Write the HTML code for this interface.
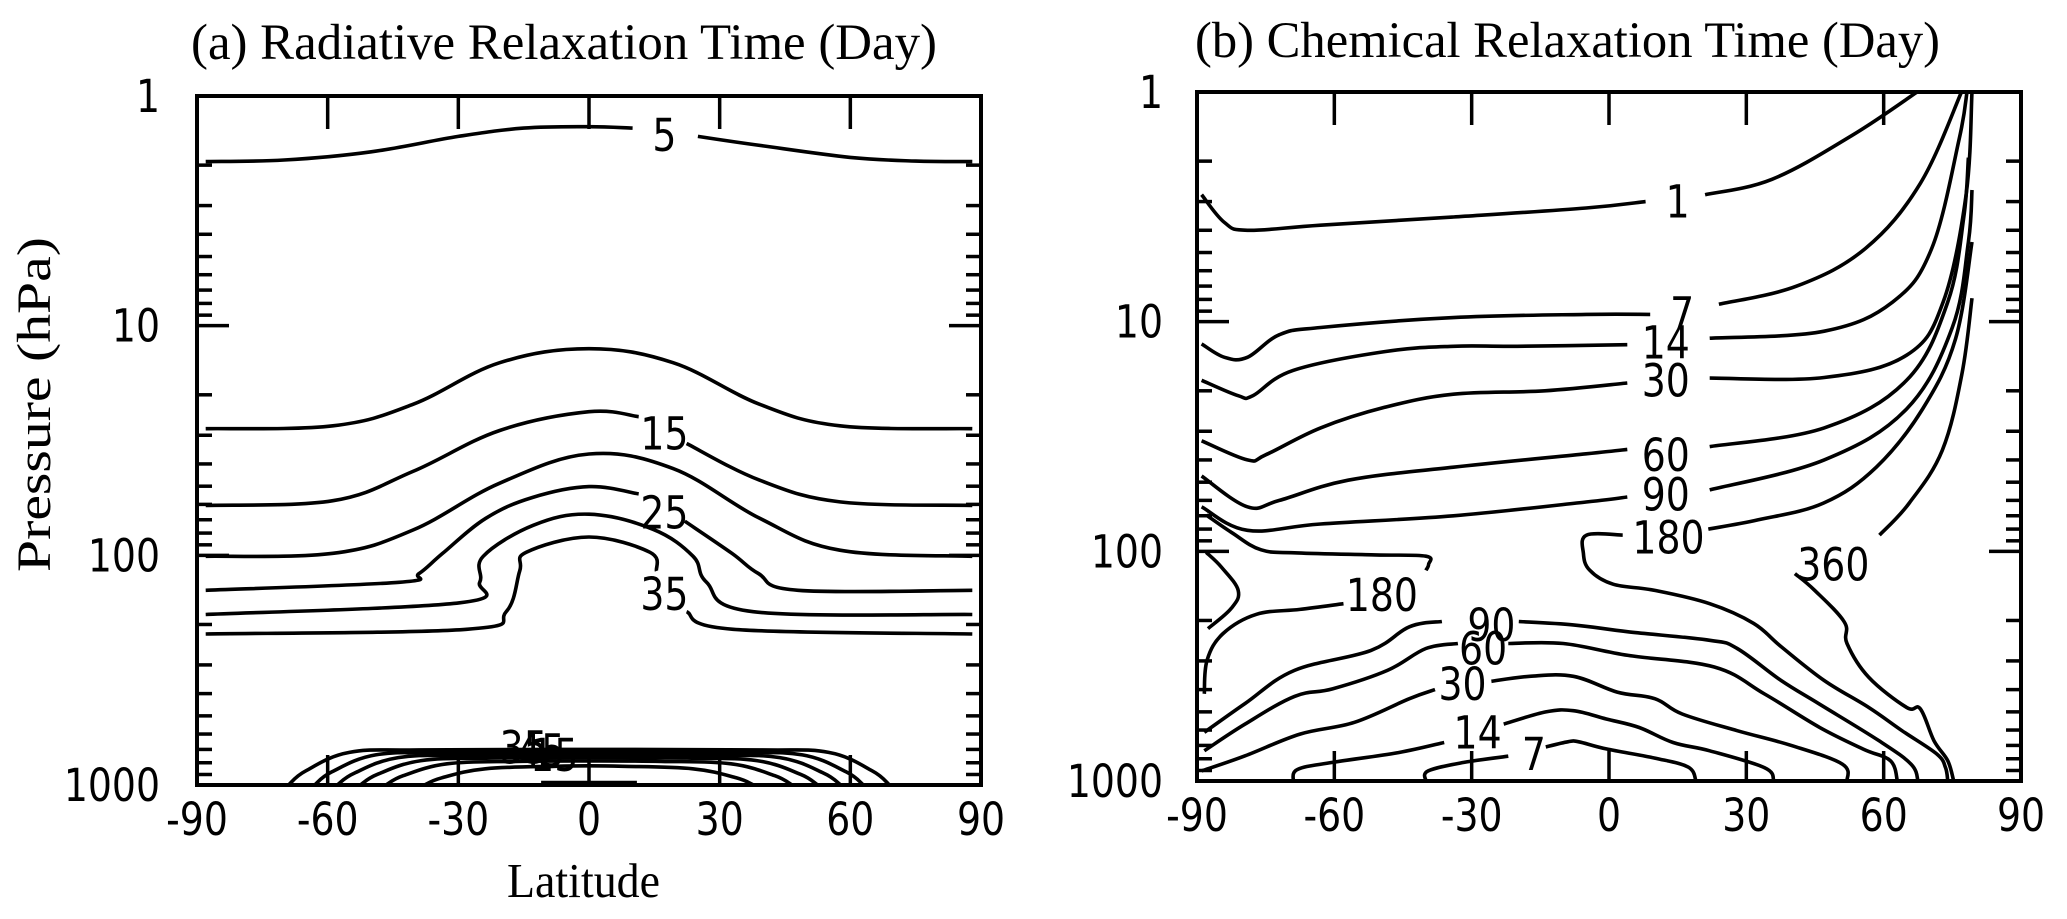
<!DOCTYPE html>
<html><head><meta charset="utf-8"><style>
html,body{margin:0;padding:0;background:#fff;}
svg{display:block;}
.tick{font-family:"DejaVu Sans","Liberation Sans",sans-serif;font-size:45px;fill:#000;}
.ser{font-family:"Liberation Serif",serif;fill:#000;}
</style></head><body>
<svg id="fig" xmlns="http://www.w3.org/2000/svg" width="2067" height="919" viewBox="0 0 2067 919">
<text class="ser" x="191" y="59" font-size="51" textLength="746" lengthAdjust="spacingAndGlyphs">(a) Radiative Relaxation Time (Day)</text>
<text class="ser" x="1195" y="57" font-size="51" textLength="745" lengthAdjust="spacingAndGlyphs">(b) Chemical Relaxation Time (Day)</text>
<text class="ser" x="507" y="897" font-size="49" textLength="153" lengthAdjust="spacingAndGlyphs">Latitude</text>
<text class="ser" transform="translate(50,572) rotate(-90)" font-size="48" textLength="335" lengthAdjust="spacingAndGlyphs">Pressure  (hPa)</text>
<g id="pa"></g>
<g id="pb"></g>
</svg>
<script>
const xTicks=[-90,-60,-30,0,30,60,90];
const yTickLabels=[1,10,100,1000];
const minorP=[2,3,4,5,6,7,8,9,20,30,40,50,60,70,80,90,200,300,400,500,600,700,800,900];
// Panel a contours: segments of [lat,hPa]
const aC5=[[[-88,1.93],[-70,1.9],[-50,1.75],[-30,1.5],[-15,1.38],[0,1.36],[10,1.38]],[[25,1.5],[40,1.65],[60,1.85],[75,1.92],[88,1.93]]];
const aC10=[[[-88,28.1],[-58.8,27.3],[-40.4,22],[-20.5,14.5],[0,12.6],[19.3,14.5],[39.2,22],[57.6,27.3],[88,28.1]]];
const aC15=[[[-88,60.6],[-58.8,57.8],[-40.4,43.1],[-20.5,28.6],[0,23.7],[11.4,24.9]],[[22.4,32.6],[39.2,47.1],[57.6,58.5],[88,60.6]]];
const aC20=[[[-88,101],[-58.8,98],[-40.4,77.6],[-20.5,48.5],[0,36.2],[19.3,41.9],[39.2,69],[57.6,95],[88,101]]];
const aC25=[[[-88,142],[-43.6,131],[-39,120],[-33.6,98],[-23.7,69],[-13,56],[0,50.2],[11.4,54]],[[22,71],[32.8,98],[38.9,120],[48,142],[88,142]]];
const aC30=[[[-88,181],[-29.7,161],[-25.1,131],[-24.3,101],[-12.8,74],[0,66.2],[14.7,77],[23.9,101],[27,131],[37.7,176],[88,181]]];
const aC35=[[[-88,220],[-28.1,210],[-19,176],[-15.9,117],[-14.4,97],[0,83.2],[14,97],[15.5,117]],[[22.4,176],[33.1,210],[88,220]]];
const aLabels=[["5",17.3,1.48],["15",17.3,29.5],["25",17.3,65],["35",17.3,147]];
const aArcEnds=[69,63,57.8,52.5,46.6,37.8];
const aArcTops=[700,718,738,760,785,825];
// Panel b contours
const b1=[[[-89,2.8],[-84,3.7],[-79,4],[-63,3.8],[-34,3.5],[-5,3.2],[8,3.0]],[[21,2.8],[35.6,2.4],[53,1.55],[67.3,1.0]]];
const b7=[[[-89,12.5],[-84,14.3],[-79,14.3],[-72,11.4],[-63,10.6],[-34,9.6],[-5,9.3],[9,9.3]],[[24,8.4],[41,7],[56,4.8],[68,2.5],[77,1]]];
const b14=[[[-89,18],[-81,21],[-77.8,21],[-69,16.3],[-49,13.5],[-34,12.8],[-20,12.8],[4,12.6]],[[22,11.8],[47,11],[62,8.2],[70.5,4.8],[76.5,1.6],[78.2,1]]];
const b30=[[[-89,33],[-79,40],[-75,38],[-63,29],[-49,23.6],[-34,20.7],[-14,20],[4,18.5]],[[22,17.6],[47,17.5],[65,14],[73,8.2],[78,2.8],[79.3,1]]];
const b60=[[[-89,47],[-79,64],[-72,60],[-57,49],[-34,43],[-5,37.6],[4,36]],[[22,35],[47,29],[65,18],[74,8.2],[77.5,3.5],[78.5,1.93]]];
const b90=[[[-89,64],[-79,81],[-63,76],[-34,70],[-5,61],[4,58]],[[22,54],[47,40],[65,24],[75,10.6],[78.5,4.5],[79.3,2.67]]];
const b180=[[[3,85],[-4.9,85],[-5.6,102],[-4.2,121],[0.9,139],[10,148],[22,169],[31.6,206],[37.6,260],[47,365],[56.7,478],[64,604],[71.6,763],[73.5,874],[74,1000]],
 [[21.7,80],[32.5,73],[46.9,61.6],[58.4,43],[68.5,24],[75.7,11.9],[79.3,4.5]]];
const b360=[[[59.1,85],[65.6,61.6],[72.8,36.3],[77.1,16.9],[79.3,7.9]],[[40.6,125],[44.8,147],[51.4,203],[52,252],[56.7,353],[65,478],[68,485],[71,668],[74,817],[75.3,1000]]];
const b180L=[[[-88.4,417],[-87.8,298],[-84.3,228],[-77,188],[-67.5,179],[-58,169]],
 [[-88,69.5],[-82.5,82.6],[-76,98.5],[-68,101.6],[-51,103.6],[-40,105],[-39.4,114],[-40,121]],
 [[-88,101],[-84.7,117],[-81,148],[-82.5,177],[-87.6,217]]];
const b90L=[[[-88.4,614],[-79.5,460],[-68.7,330],[-52,270],[-43.6,213],[-36.5,202]],[[-19.7,202],[-7.8,209],[4.2,224],[22,244],[28,265],[37.6,365],[46,463],[59,668],[66,845],[67.5,1000]]];
const b60L=[[[-88.4,739],[-79.5,565],[-68.7,428],[-60.4,397],[-48.4,330],[-40,265],[-33,252]],[[-22,252],[-10,252],[4.2,284],[23,319],[34,418],[46,584],[55.6,727],[61.5,817],[63,1000]]];
const b30L=[[[-89,904],[-79.5,777],[-67.5,625],[-55.6,555],[-43.6,438],[-38,400]],[[-25.7,368],[-17.3,350],[-7.8,350],[1.8,410],[10,438],[16,511],[28,604],[40,702],[51,845],[52,1000]]];
const b14L=[[[-69,1000],[-68,890],[-60.4,830],[-46,752],[-36,680]],[[-23,565],[-13.8,500],[-7.8,494],[-0.6,537],[6.6,585],[14,680],[22,739],[34,875],[36,1000]]];
const b7L=[[[-40,1000],[-39.5,904],[-31.7,830],[-22,780]],[[-13.8,711],[-9,675],[-6.6,675],[-0.6,725],[10,795],[17.3,870],[19,1000]]];
const bLabels=[["1",15,3.0],["7",16,9.2],["14",12.4,12.3],["30",12.4,18],["60",12.4,38],["90",12.4,56.6],["180",13,87],["360",49,114],["180",-49.6,155],["90",-25.7,209],["60",-27.5,265],["30",-32,378],["14",-28.7,614],["7",-16.4,764]];

const NS="http://www.w3.org/2000/svg";
function mk(tag,attrs,parent){const e=document.createElementNS(NS,tag);for(const k in attrs)e.setAttribute(k,attrs[k]);parent.appendChild(e);return e;}
function txt(parent,x,y,s,anchor,size){
 const t=mk('text',{x:0,y:0,'text-anchor':anchor,'class':'tick',transform:'translate('+x.toFixed(1)+','+y.toFixed(1)+') scale(0.84,1)'},parent);
 if(size)t.setAttribute('font-size',size);
 t.textContent=s;return t;}
function spline(pts){let d="M"+pts[0][0].toFixed(1)+","+pts[0][1].toFixed(1);
 for(let i=0;i<pts.length-1;i++){const p0=pts[Math.max(0,i-1)],p1=pts[i],p2=pts[i+1],p3=pts[Math.min(pts.length-1,i+2)];
  const t=0.18;const c1=[p1[0]+(p2[0]-p0[0])*t,p1[1]+(p2[1]-p0[1])*t],c2=[p2[0]-(p3[0]-p1[0])*t,p2[1]-(p3[1]-p1[1])*t];
  d+="C"+c1[0].toFixed(1)+","+c1[1].toFixed(1)+" "+c2[0].toFixed(1)+","+c2[1].toFixed(1)+" "+p2[0].toFixed(1)+","+p2[1].toFixed(1);}
 return d;}
function panel(g,L,R,T,B,labX){
 const X=lat=>L+(lat+90)/180*(R-L);
 const Y=p=>T+Math.log10(p)/3*(B-T);
 const ax={X,Y,g};
 const fr=mk('rect',{x:L,y:T,width:R-L,height:B-T,fill:'none',stroke:'#000','stroke-width':4},g);
 
 
 minorP.forEach(p=>{
  const y=Y(p);
  const t1=mk('line',{x1:L,x2:L+15,y1:y,y2:y,stroke:'#000','stroke-width':3.5},g);
  
  
  const t2=mk('line',{x1:R,x2:R-15,y1:y,y2:y,stroke:'#000','stroke-width':3.5},g);
  
  
 });
 yTickLabels.forEach(v=>{
  const y=Y(v);
  if(v>1&&v<1000){
   const a=mk('line',{x1:L,x2:L+32,y1:y,y2:y,stroke:'#000','stroke-width':3.5},g);
   
   
   const b=mk('line',{x1:R,x2:R-32,y1:y,y2:y,stroke:'#000','stroke-width':3.5},g);
   
   
  }
  const t=txt(g,labX,y+16,String(v),'end');
  
  
 });
 xTicks.forEach(v=>{
  const x=X(v);
  if(v>-90&&v<90){
   const a=mk('line',{x1:x,x2:x,y1:T,y2:T+33,stroke:'#000','stroke-width':3.5},g);
   
   
   const b=mk('line',{x1:x,x2:x,y1:B,y2:B-30,stroke:'#000','stroke-width':3.5},g);
   
   
  }
  const t=txt(g,x,B+50,String(v),'middle');
  
  
 });
 return ax;
}
function contour(ax,segs,name){
 segs.forEach(s=>{
  const pts=s.map(q=>[ax.X(q[0]),ax.Y(q[1])]);
  const e=mk('path',{d:spline(pts),fill:'none',stroke:'#000','stroke-width':3.6,'stroke-linejoin':'round'},ax.g);
  
  
 });
}
function labels(ax,arr){
 arr.forEach(l=>{
  const t=txt(ax.g,ax.X(l[1]),ax.Y(l[2])+16,l[0],'middle');
  
  
 });
}
const A=panel(document.getElementById('pa'),197,981,96,785,160);
[[aC5,'contour-5'],[aC10,'contour-10'],[aC15,'contour-15'],[aC20,'contour-20'],[aC25,'contour-25'],[aC30,'contour-30'],[aC35,'contour-35']].forEach(c=>contour(A,c[0],c[1]));
labels(A,aLabels);
aArcEnds.forEach((e,i)=>{
 const top=aArcTops[i];
 const seg=[[-e,1000],[-e+4,(1000+top)/2*1.02],[-e+14,top*1.03],[-e+30,top*1.005],[0,top],[e-30,top*1.005],[e-14,top*1.03],[e-4,(1000+top)/2*1.02],[e,1000]];
 contour(A,[seg],'surface-contour');
});
contour(A,[[[-11,975],[11,975]]],'surface-contour');
[["35",-15,716],["45",-11,738],["15",-8,770]].forEach(l=>{
 const t=txt(A.g,A.X(l[1]),A.Y(l[2])+12,l[0],'middle','36');
 
 
});
const Bp=panel(document.getElementById('pb'),1197,2021,92,781,1163);
[[b1,'contour-1'],[b7,'contour-7'],[b14,'contour-14'],[b30,'contour-30'],[b60,'contour-60'],[b90,'contour-90'],[b180,'contour-180'],[b360,'contour-360'],[b180L,'contour-180-lower'],[b90L,'contour-90-lower'],[b60L,'contour-60-lower'],[b30L,'contour-30-lower'],[b14L,'contour-14-lower'],[b7L,'contour-7-lower']].forEach(c=>contour(Bp,c[0],c[1]));
labels(Bp,bLabels);
</script>
</body></html>
